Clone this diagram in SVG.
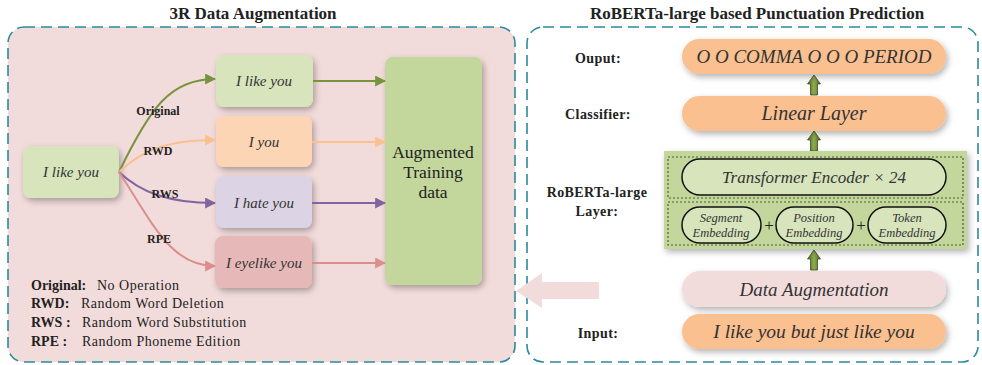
<svg xmlns="http://www.w3.org/2000/svg" width="982" height="365" viewBox="0 0 982 365">
<defs>
<filter id="sh" x="-20%" y="-20%" width="150%" height="150%">
<feDropShadow dx="2" dy="3" stdDeviation="3" flood-color="#000" flood-opacity="0.3"/>
</filter>
<marker id="mg" viewBox="0 0 10 10" refX="9" refY="5" markerWidth="11" markerHeight="11" markerUnits="userSpaceOnUse" orient="auto"><path d="M0,0 L10,5 L0,10 Z" fill="#77933c"/></marker>
<marker id="mo" viewBox="0 0 10 10" refX="9" refY="5" markerWidth="11" markerHeight="11" markerUnits="userSpaceOnUse" orient="auto"><path d="M0,0 L10,5 L0,10 Z" fill="#fac090"/></marker>
<marker id="mp" viewBox="0 0 10 10" refX="9" refY="5" markerWidth="11" markerHeight="11" markerUnits="userSpaceOnUse" orient="auto"><path d="M0,0 L10,5 L0,10 Z" fill="#8064a2"/></marker>
<marker id="mr" viewBox="0 0 10 10" refX="9" refY="5" markerWidth="11" markerHeight="11" markerUnits="userSpaceOnUse" orient="auto"><path d="M0,0 L10,5 L0,10 Z" fill="#da8f8c"/></marker>
<linearGradient id="ga" x1="0" y1="0" x2="1" y2="0"><stop offset="0" stop-color="#4f6228"/><stop offset="0.5" stop-color="#8fae4f"/><stop offset="1" stop-color="#4f6228"/></linearGradient>
<g id="uparrow"><path d="M-3.5,20 L-3.5,9 L-6.5,9 L0,0 L6.5,9 L3.5,9 L3.5,20 Z" fill="url(#ga)" stroke="#3f4f1f" stroke-width="0.8"/></g>
</defs>
<style>
.ttl{font-family:"Liberation Serif","Times New Roman",serif;font-weight:bold;font-size:17px;fill:#222;text-anchor:middle}
.it{font-family:"Liberation Serif","Times New Roman",serif;font-style:italic;fill:#333;text-anchor:middle}
.bl{font-family:"Liberation Serif","Times New Roman",serif;font-weight:bold;font-size:12px;fill:#222;text-anchor:middle}
.lg{font-family:"Liberation Serif","Times New Roman",serif;font-size:14px;fill:#222;letter-spacing:0.5px}
.lgb{font-weight:bold;letter-spacing:0}
.rl{font-family:"Liberation Serif","Times New Roman",serif;font-weight:bold;font-size:14px;fill:#222;text-anchor:middle;letter-spacing:0.4px}
.rg{font-family:"Liberation Serif","Times New Roman",serif;fill:#222;text-anchor:middle}
.panel{stroke:#2a8a9c;stroke-width:1.6;stroke-dasharray:11,6}
.emb{fill:#d7e4bc;stroke:#111;stroke-width:1.5}
.dot{fill:none;stroke:#4f6228;stroke-width:1.2;stroke-dasharray:2,2}
</style>

<text class="ttl" x="253" y="19">3R Data Augmentation</text>
<text class="ttl" x="757" y="19">RoBERTa-large based Punctuation Prediction</text>

<rect class="panel" x="8" y="27" width="507" height="335" rx="16" fill="#f2dcdb"/>
<rect class="panel" x="527" y="27" width="451" height="335" rx="16" fill="#ffffff"/>

<g id="input-node"><rect x="23" y="146" width="96" height="52" rx="8" fill="#d7e4bc" filter="url(#sh)"/><text class="it" x="71" y="177" font-size="15">I like you</text></g>
<g id="node-original"><rect x="216" y="55" width="97" height="52" rx="8" fill="#d7e4bc" filter="url(#sh)"/><text class="it" x="264" y="86" font-size="15">I like you</text></g>
<g id="node-rwd"><rect x="216" y="116" width="96" height="51" rx="8" fill="#fcd5b5" filter="url(#sh)"/><text class="it" x="264" y="147" font-size="15">I  you</text></g>
<g id="node-rws"><rect x="216" y="176" width="96" height="52" rx="8" fill="#dcd4e4" filter="url(#sh)"/><text class="it" x="264" y="208" font-size="15">I  hate you</text></g>
<g id="node-rpe"><rect x="215" y="236" width="97" height="52" rx="8" fill="#e6b9b8" filter="url(#sh)"/><text class="it" x="264" y="268" font-size="15">I  eyelike you</text></g>
<g id="node-augmented"><rect x="385" y="57" width="97" height="228" rx="8" fill="#c3d69b" filter="url(#sh)"/>
<text class="rg" x="433" y="158" font-size="17.5">Augmented</text>
<text class="rg" x="433" y="178" font-size="17.5">Training</text>
<text class="rg" x="433" y="198" font-size="17.5">data</text></g>

<g id="connectors" fill="none" stroke-width="2">
<path d="M119,172 C150,108 170,79 215,79" stroke="#77933c" marker-end="url(#mg)"/>
<path d="M119,172 C142,150 168,140 215,140" stroke="#fac090" marker-end="url(#mo)"/>
<path d="M119,172 C140,192 168,203 215,203" stroke="#8064a2" marker-end="url(#mp)"/>
<path d="M119,172 C152,222 170,266 215,266" stroke="#da8f8c" marker-end="url(#mr)"/>
<path d="M313,81 L385,81" stroke="#77933c" marker-end="url(#mg)"/>
<path d="M312,142 L385,142" stroke="#fac090" marker-end="url(#mo)"/>
<path d="M312,203 L385,203" stroke="#8064a2" marker-end="url(#mp)"/>
<path d="M312,263 L385,263" stroke="#da8f8c" marker-end="url(#mr)"/>
<use href="#uparrow" x="814" y="75"/>
<use href="#uparrow" x="814" y="131"/>
<use href="#uparrow" x="814" y="250"/>
<path d="M516,291 L542,273 L542,282 L599,282 L599,299 L542,299 L542,308 Z" fill="#f2dcdb" stroke="none"/>
</g>

<text class="bl" x="158" y="115">Original</text>
<text class="bl" x="158" y="155">RWD</text>
<text class="bl" x="165" y="198">RWS</text>
<text class="bl" x="159" y="243">RPE</text>

<g id="legend">
<text class="lg" x="31" y="290"><tspan class="lgb">Original:</tspan><tspan x="97">No Operation</tspan></text>
<text class="lg" x="31" y="308"><tspan class="lgb">RWD:</tspan><tspan x="81">Random Word Deletion</tspan></text>
<text class="lg" x="31" y="327"><tspan class="lgb">RWS :</tspan><tspan x="82">Random Word Substitution</tspan></text>
<text class="lg" x="31" y="346"><tspan class="lgb">RPE   :</tspan><tspan x="82">Random Phoneme Edition</tspan></text>
</g>

<text class="rl" x="598" y="63">Ouput:</text>
<text class="rl" x="598" y="119">Classifier:</text>
<text class="rl" x="597" y="197">RoBERTa-large</text>
<text class="rl" x="597" y="216">Layer:</text>
<text class="rl" x="598" y="338">Input:</text>

<g id="output"><rect x="682" y="39" width="264" height="35" rx="17.5" fill="#fac090" filter="url(#sh)"/><text class="it" x="814" y="63" font-size="19">O O COMMA O O O PERIOD</text></g>
<g id="classifier"><rect x="682" y="96" width="264" height="35" rx="17.5" fill="#fac090" filter="url(#sh)"/><text class="it" x="814" y="120" font-size="20">Linear Layer</text></g>
<g id="roberta">
<rect x="664" y="151" width="303" height="98" fill="#c3d69b" filter="url(#sh)"/>
<rect class="dot" x="668" y="157" width="295" height="41"/>
<rect class="dot" x="668" y="202" width="295" height="43"/>
<rect class="emb" x="682" y="159" width="264" height="36" rx="18"/>
<text class="it" x="814" y="183" font-size="17">Transformer Encoder × 24</text>
<rect class="emb" x="682" y="207" width="79" height="36" rx="18"/>
<text class="it" x="721" y="222" font-size="12.5">Segment</text><text class="it" x="721" y="237" font-size="12.5">Embedding</text>
<text class="rg" x="769" y="231" font-size="17">+</text>
<rect class="emb" x="776" y="207" width="77" height="36" rx="18"/>
<text class="it" x="814" y="222" font-size="12.5">Position</text><text class="it" x="814" y="237" font-size="12.5">Embedding</text>
<text class="rg" x="861" y="231" font-size="17">+</text>
<rect class="emb" x="868" y="207" width="78" height="36" rx="18"/>
<text class="it" x="907" y="222" font-size="12.5">Token</text><text class="it" x="907" y="237" font-size="12.5">Embedding</text>
</g>
<g id="data-aug"><rect x="682" y="271" width="264" height="36" rx="18" fill="#f2dcdb" filter="url(#sh)"/><text class="it" x="814" y="296" font-size="19">Data Augmentation</text></g>
<g id="input"><rect x="682" y="314" width="264" height="35" rx="17.5" fill="#fac090" filter="url(#sh)"/><text class="it" x="814" y="338" font-size="19.5">I like you but just like you</text></g>
</svg>
